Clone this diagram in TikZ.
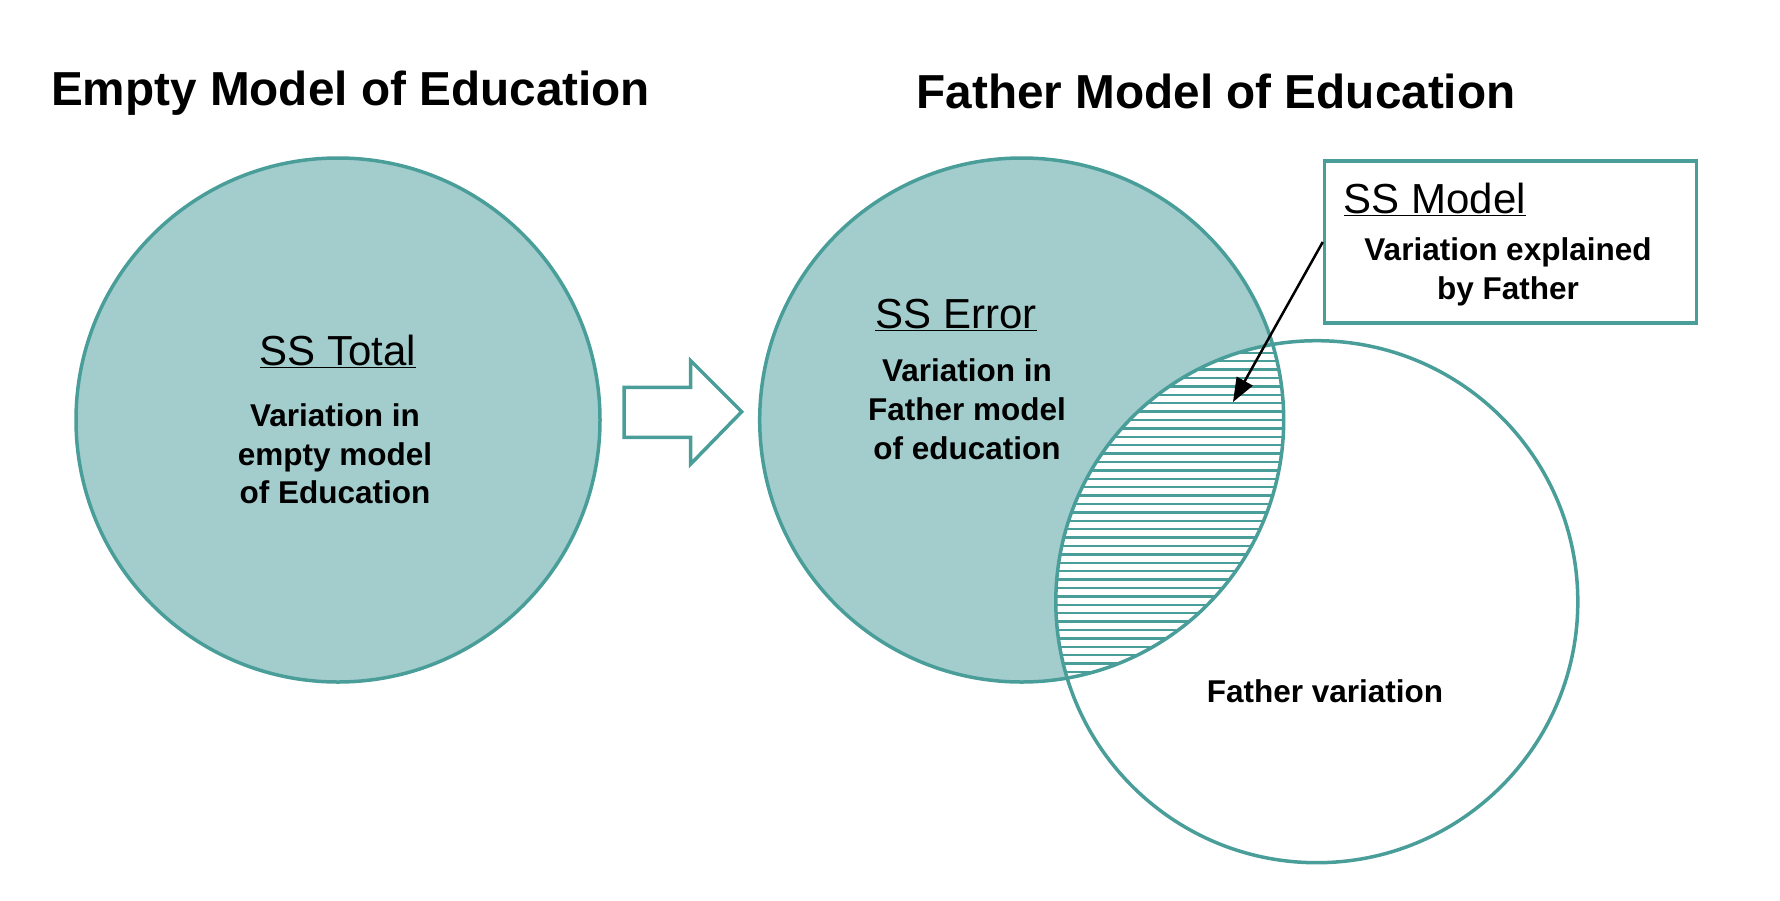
\documentclass[tikz,border=0pt]{standalone}
\usepackage{fontspec}
\setmainfont{Liberation Sans}
\usetikzlibrary{arrows.meta}
\definecolor{tealline}{RGB}{74,158,154}
\definecolor{tealfill}{RGB}{163,205,204}
\begin{document}
\begin{tikzpicture}[x=1pt,y=-1pt,
  title/.style={font=\bfseries\fontsize{47.7}{57}\selectfont, anchor=base, inner sep=0},
  sshead/.style={font=\fontsize{42}{50}\selectfont, anchor=base, inner sep=0},
  body/.style={font=\bfseries\fontsize{31.5}{38.6}\selectfont, align=center, inner sep=0},
  venn/.style={circle, draw=tealline, line width=3.5pt, inner sep=0},
  hatch/.style={draw=tealline, line width=2.3pt},
  callout/.style={draw=black, line width=2.5pt, -{Triangle[length=24pt,width=18pt]}}
]
\useasboundingbox (0,0) rectangle (1780,900);
% titles
\node[title] (t1) at (350.5,105.5) {Empty Model of Education};
\node[title] (t2) at (1216,108) {Father Model of Education};
% left circle
\node[venn, fill=tealfill, minimum size=524pt] (total) at (338,420) {};
% big arrow
\draw[draw=tealline, fill=white, line width=3.5pt, line join=miter]
  (624,387.3) -- (690.7,387.3) -- (690.7,360.7) -- (741.7,411.7) -- (690.7,464) -- (690.7,437.3) -- (624,437.3) -- cycle;
% right circles
\path[fill=tealfill] (1021.7,420) circle[radius=262pt];
\path[fill=white] (1316.8,601.7) circle[radius=261pt];
\begin{scope}
  \clip (1021.7,420) circle[radius=262pt];
  \clip (1316.8,601.7) circle[radius=261pt];
  \foreach \k in {-30,...,40} {
    \draw[hatch] (1000,504+8.4*\k) -- (1400,504+8.4*\k);
  }
\end{scope}
\node[venn, minimum size=524pt] (err) at (1021.7,420) {};
\node[venn, minimum size=522pt] (father) at (1316.8,601.7) {};
% texts
\node[sshead] (sst) at (338,365.5) {\underline{SS Total}};
\node[body] (sstxt) at (335,453.8) {Variation in\\empty model\\of Education};
\node[sshead] (sse) at (956,328) {\underline{SS Error}};
\node[body] (ssetxt) at (967,409.2) {Variation in\\Father model\\of education};
\node[body, anchor=base] (fv) at (1325,702) {Father variation};
% SS Model box
\node[draw=tealline, line width=3.5pt, minimum width=372pt, minimum height=162pt, inner sep=0] (box) at (1510.5,242) {};
\node[sshead] (ssm) at (1435,213) {\underline{SS Model}};
\node[body] (ssmtxt) at (1508,272) {Variation explained\\by Father};
\coordinate (tip) at (1233,402);
\draw[callout] (box.west) -- (tip);
\end{tikzpicture}
\end{document}
